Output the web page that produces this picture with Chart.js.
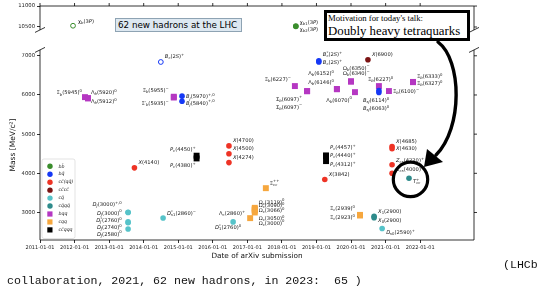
<!DOCTYPE html>
<html>
<head>
<meta charset="utf-8">
<script src="https://cdn.jsdelivr.net/npm/chart.js@4.4.1/dist/chart.umd.min.js"></script>
<style>
  body { margin: 0; background: #fff; }
  #wrap { position: relative; width: 537px; height: 286px; overflow: hidden; }
  #chart { position: absolute; left: 0; top: 0; width: 537px; height: 286px; }
  .note { position: absolute; left: 115px; top: 18px; width: 127px; height: 14px; box-sizing: border-box;
          border: 1px solid #8ea3b3; background: #dde8f1; font: 8.75px "DejaVu Sans"; line-height: 12px;
          padding-left: 2px; color: #000; white-space: nowrap; }
  .motiv { position: absolute; left: 324px; top: 10px; width: 146px; height: 31px; box-sizing: border-box;
           border: 3px solid #000; background: #fff; font-family: "Liberation Serif"; color: #000; }
  .motiv .l1 { position: absolute; left: 1px; top: 1px; font-size: 8.7px; line-height: 9px; white-space: nowrap; }
  .motiv .l2 { position: absolute; left: 1px; top: 10.5px; font-size: 12.8px; line-height: 14px; white-space: nowrap; }
  .cite { position: absolute; font: 11.6px "Liberation Mono"; line-height: 13px; color: #111; white-space: pre; }
</style>
</head>
<body>
<div id="wrap">
  <canvas id="chart" width="537" height="286"></canvas>
  <div class="note">62 new hadrons at the LHC</div>
  <div class="motiv"><span class="l1">Motivation for today's talk:</span><span class="l2">Doubly heavy tetraquarks</span></div>
  <div class="cite" style="left:503px;top:257.5px">(LHCb</div>
  <div class="cite" style="left:7px;top:273.5px">collaboration, 2021, 62 new hadrons, in 2023:  65 )</div>
</div>
<script>
// hadron families, legend order
const categories = ['bb\u0304', 'bq\u0304', 'cc\u0304(qq\u0304)', 'cc\u0304cc\u0304', 'cq\u0304', 'cq\u0304qq\u0304', 'bqq', 'cqq', 'cc\u0304qqq'];

const bbNames  = ['χ_b(3P)', 'χ_{b1}(3P)', 'χ_{b2}(3P)'];
const bbDates  = ['2011-12-16', '2018-05-28', '2018-05-28'];
const bbMasses = [10530, 10513, 10524];
const bbExp    = ['ATLAS', 'LHCb', 'LHCb'];

const bqNames  = ['B_c(2S)^+', 'B_J(5970)^{+,0}', 'B_J(5840)^{+,0}', 'B_c^*(2S)^+', 'B_c(2S)^+', 'B_{sJ}(6114)^0', 'B_{sJ}(6063)^0'];
const bqDates  = ['2014-07-01', '2015-02-10', '2015-02-10', '2019-01-26', '2019-01-26', '2020-10-22', '2020-10-22'];
const bqMasses = [6842, 5970, 5840, 6841, 6872, 6114, 6063];
const bqExp    = ['ATLAS', 'LHCb', 'LHCb', 'LHCb', 'LHCb', 'LHCb', 'LHCb'];

const ccqqNames  = ['X(4140)', 'X(4700)', 'X(4500)', 'X(4274)', 'X(3842)', 'X(4685)', 'X(4630)', 'Z_{cs}(4220)^+', 'Z_{cs}(4000)^+'];
const ccqqDates  = ['2013-09-25', '2016-06-20', '2016-06-20', '2016-06-20', '2019-03-30', '2021-03-10', '2021-03-10', '2021-03-10', '2021-03-10'];
const ccqqMasses = [4140, 4700, 4500, 4274, 3842, 4685, 4630, 4220, 4003];

const ccccNames  = ['X(6900)'];
const ccccDates  = ['2020-06-28'];
const ccccMasses = [6900];

const cqNames  = ['D_J(3000)^{+,0}', 'D_J(3000)^0', 'D_J^*(2760)^0', 'D_J(2740)^0', 'D_J(2580)^0', 'D^*_{s1}(2860)^−', 'D_1^*(2760)^0', 'D_{s0}(2590)^+'];
const cqDates  = ['2013-07-20', '2013-07-20', '2013-07-20', '2013-07-20', '2013-07-20', '2014-07-25', '2016-08-03', '2020-11-25'];
const cqMasses = [3008, 3000, 2760, 2740, 2580, 2860, 2760, 2590];

const cqqqNames  = ['X_1(2900)', 'X_0(2900)', 'T_{cc}^+'];
const cqqqDates  = ['2020-09-01', '2020-09-01', '2021-09-05'];
const cqqqMasses = [2904, 2866, 3875];

const bqqNames  = ['Ξ_b(5945)^0', 'Λ_b(5920)^0', 'Λ_b(5912)^0', 'Ξ_b(5955)^−', 'Ξ′_b(5935)^−', 'Ξ_b(6227)^−', 'Σ_b(6097)^+', 'Σ_b(6097)^−',
                   'Λ_b(6152)^0', 'Λ_b(6146)^0', 'Ω_b(6350)^−', 'Ω_b(6340)^−', 'Λ_b(6070)^0', 'Ξ_b(6227)^0', 'Ξ_b(6100)^−', 'Ξ_b(6333)^0', 'Ξ_b(6327)^0'];
const bqqDates  = ['2012-04-20', '2012-05-22', '2012-05-22', '2014-11-15', '2014-11-15', '2018-05-18', '2018-09-24', '2018-09-24',
                   '2019-08-05', '2019-08-05', '2020-01-01', '2020-01-01', '2020-02-12', '2020-10-22', '2021-02-05', '2021-10-17', '2021-10-17'];
const bqqMasses = [5945, 5920, 5912, 5955, 5935, 6227, 6097, 6097, 6152, 6146, 6350, 6340, 6072, 6227, 6100, 6333, 6327];

const cqqNames  = ['Ξ_{cc}^{++}', 'Ω_c(3119)^0', 'Ω_c(3090)^0', 'Ω_c(3066)^0', 'Ω_c(3050)^0', 'Ω_c(3000)^0', 'Λ_c(2860)^+', 'Ξ_c(2939)^0', 'Ξ_c(2923)^0'];
const cqqDates  = ['2017-07-15', '2017-03-20', '2017-03-20', '2017-03-20', '2017-03-20', '2017-03-20', '2017-01-30', '2020-04-05', '2020-04-05'];
const cqqMasses = [3621, 3119, 3090, 3066, 3050, 3000, 2856, 2939, 2923];

const pcNames  = ['P_c(4450)^+', 'P_c(4380)^+', 'P_c(4457)^+', 'P_c(4440)^+', 'P_c(4312)^+'];
const pcDates  = ['2015-07-14', '2015-07-14', '2019-04-12', '2019-04-12', '2019-04-12'];
const pcMasses = [4450, 4380, 4457, 4440, 4312];

const tickYears  = [2011, 2012, 2013, 2014, 2015, 2016, 2017, 2018, 2019, 2020, 2021, 2022];
const massTicks  = [3000, 4000, 5000, 6000, 7000, 10500, 11000];
const axisBreak  = [7150, 10430];   // top of lower panel, bottom of upper panel

// styling / label layout
const catColors = ['#3a8d2c', '#1538f5', '#ee3325', '#7b1414', '#56c3c9', '#2e8b8b', '#b537c2', '#f6a73e', '#000000'];
const catShapes = ['circle', 'circle', 'circle', 'circle', 'circle', 'circle', 'rect', 'rect', 'rect'];

const bbLabels   = [[5, -4, 'l'], [4, -4, 'l'], [4, 4, 'l']];
const bqLabels   = [[4, -5, 'l'], [4, 1, 'l'], [4, 2, 'l'], [4, -7.5, 'l'], [4, 2, 'l'], [-16, 10.5, 'l'], [-16, 16, 'l']];
const ccqqLabels = [[4, -5, 'l'], [4, -5, 'l'], [4, -5, 'l'], [4, -5, 'l'], [4, -5, 'l'], [4, -5, 'l'], [4, 0, 'l'], [4, -4, 'l'], [4, -4, 'l']];
const ccccLabels = [[4, -5, 'l']];
const cqLabels   = [[-6.3, -7.3, 'r'], [-6.3, 0.7, 'r'], [-6.3, -1.3, 'r'], [-6.3, 4.9, 'r'], [-6.3, 5.2, 'r'], [4, -4.3, 'l'], [-5, 5.6, 'c'], [4, 4, 'l']];
const cqqqLabels = [[4, -5, 'l'], [4, 3, 'l'], [4, 3.5, 'l']];
const bqqLabels  = [[-3, -4, 'r'], [3, -5, 'l'], [3, 3, 'l'], [-5, -6, 'r'], [-5, 6.5, 'r'], [-4, -6, 'r'], [-5, 8, 'r'], [-5, 16, 'r'],
                    [-3, -15, 'r'], [-3, -6.5, 'r'], [-8, -13, 'l'], [-8, -7.6, 'l'], [-3, 8, 'r'], [-11, -6, 'l'], [4, 1, 'l'], [4, -5, 'l'], [4, 1.5, 'l']];
const cqqLabels  = [[4, -5, 'l'], [4, -5.6, 'l'], [4, -3.2, 'l'], [4, 0.6, 'l'], [4, 8, 'l'], [4, 10.8, 'l'], [-5, -4.3, 'r'], [-5, -6, 'r'], [-5, 2.5, 'r']];
const pcLabels   = [[-1, -6, 'r'], [-1, 7.5, 'r'], [4, -7.5, 'l'], [4, -0.5, 'l'], [4, 4, 'l']];

const groups = [
  [bbNames, bbDates, bbMasses, bbLabels, bbExp],
  [bqNames, bqDates, bqMasses, bqLabels, bqExp],
  [ccqqNames, ccqqDates, ccqqMasses, ccqqLabels],
  [ccccNames, ccccDates, ccccMasses, ccccLabels],
  [cqNames, cqDates, cqMasses, cqLabels],
  [cqqqNames, cqqqDates, cqqqMasses, cqqqLabels],
  [bqqNames, bqqDates, bqqMasses, bqqLabels],
  [cqqNames, cqqDates, cqqMasses, cqqLabels],
  [pcNames, pcDates, pcMasses, pcLabels]
];

// broken axis: upper panel (bottomonium) is squeezed just above the lower one
function yPos(m) {
  return m > 9000 ? 7735 + (m - 10500) * 1.07 : m;
}

const datasets = groups.map((g, k) => {
  const [names, dates, masses, , exp] = g;
  const col = catColors[k];
  const isOpen = i => exp && exp[i] !== 'LHCb';
  return {
    label: categories[k],
    data: names.map((n, i) => ({ x: Date.parse(dates[i]), y: yPos(masses[i]) })),
    pointStyle: catShapes[k],
    pointRadius: ctx => catShapes[k] === 'rect' ? 4.2 : (isOpen(ctx.dataIndex) ? 2.4 : 2.8),
    pointBackgroundColor: ctx => isOpen(ctx.dataIndex) ? '#fff' : col,
    pointBorderColor: col,
    pointBorderWidth: ctx => isOpen(ctx.dataIndex) ? 1 : 0,
    backgroundColor: col,
    borderColor: col
  };
});

const LABEL_SIZE = 5.2, SCRIPT_SIZE = 3.8;

function parseRich(s) {
  const out = [];
  let i = 0;
  while (i < s.length) {
    const c = s[i];
    if (c === '_' || c === '^') {
      i++;
      let t;
      if (s[i] === '{') { const j = s.indexOf('}', i); t = s.slice(i + 1, j); i = j + 1; }
      else { t = s[i]; i++; }
      out.push({ t, mode: c });
    } else {
      let j = i;
      while (j < s.length && s[j] !== '_' && s[j] !== '^') j++;
      out.push({ t: s.slice(i, j), mode: '' });
      i = j;
    }
  }
  return out;
}

function splitRuns(t) {
  const runs = [];
  let cur = '', curIt = null;
  for (const ch of t) {
    const it = /[A-Za-z]/.test(ch);
    if (curIt === null || it === curIt) { cur += ch; curIt = it; }
    else { runs.push([cur, curIt]); cur = ch; curIt = it; }
  }
  if (cur) runs.push([cur, curIt]);
  return runs;
}

function fontFor(it, size) { return (it ? 'italic ' : '') + size + 'px "DejaVu Sans"'; }

function runsWidth(ctx, t, size) {
  let w = 0;
  for (const [s, it] of splitRuns(t)) { ctx.font = fontFor(it, size); w += ctx.measureText(s).width; }
  return w;
}

function drawRuns(ctx, t, x, y, size) {
  for (const [s, it] of splitRuns(t)) {
    ctx.font = fontFor(it, size);
    ctx.fillText(s, x, y);
    x += ctx.measureText(s).width;
  }
}

function drawRich(ctx, s, x, y, align) {
  const parts = parseRich(s);
  let w = 0, scriptStart = null, prev = '';
  const placed = [];
  for (const p of parts) {
    const size = p.mode ? SCRIPT_SIZE : LABEL_SIZE;
    const pw = runsWidth(ctx, p.t, size);
    if (p.mode && prev && prev !== p.mode && scriptStart !== null) {
      placed.push({ p, x: scriptStart, size });
      w = Math.max(w, scriptStart + pw);
      scriptStart = null;
    } else {
      placed.push({ p, x: w, size });
      scriptStart = p.mode ? w : null;
      w += pw;
    }
    prev = p.mode;
  }
  const x0 = align === 'r' ? x - w : align === 'c' ? x - w / 2 : x;
  for (const q of placed) {
    const dy = q.p.mode === '_' ? 1.4 : q.p.mode === '^' ? -1.9 : 0;
    drawRuns(ctx, q.p.t, x0 + q.x, y + dy, q.size);
  }
}

const overlay = {
  id: 'overlay',
  afterDatasetsDraw(chart) {
    const ctx = chart.ctx;
    ctx.save();
    ctx.fillStyle = '#1a1a1a';
    ctx.textBaseline = 'middle';
    ctx.textAlign = 'left';
    groups.forEach((g, k) => {
      const meta = chart.getDatasetMeta(k);
      g[0].forEach((name, i) => {
        const pt = meta.data[i];
        const [dx, dy, al] = g[3][i];
        drawRich(ctx, name, pt.x + dx, pt.y + dy, al);
      });
    });
    ctx.restore();
  },
  afterDraw(chart) {
    const ctx = chart.ctx;
    const { left, right, top, bottom } = chart.chartArea;
    const ys = chart.scales.y, xs = chart.scales.x;
    const gapTop = ys.getPixelForValue(yPos(axisBreak[1]));
    const gapBot = ys.getPixelForValue(axisBreak[0]);
    ctx.save();
    ctx.strokeStyle = '#000';
    ctx.lineWidth = 0.8;
    ctx.beginPath();
    ctx.moveTo(left, top); ctx.lineTo(right, top);
    ctx.moveTo(left, bottom); ctx.lineTo(right, bottom);
    for (const sx of [left, right]) {
      ctx.moveTo(sx, top); ctx.lineTo(sx, gapTop);
      ctx.moveTo(sx, gapBot); ctx.lineTo(sx, bottom);
      for (const py of [gapTop, gapBot]) {
        ctx.moveTo(sx - 5, py + 2.5); ctx.lineTo(sx + 5, py - 2.5);
      }
    }
    // mirrored ticks on right and top
    massTicks.forEach(m => {
      const py = ys.getPixelForValue(yPos(m));
      ctx.moveTo(right, py); ctx.lineTo(right + 3, py);
    });
    tickYears.forEach(yr => {
      const px = xs.getPixelForValue(Date.UTC(yr, 0, 1));
      ctx.moveTo(px, top); ctx.lineTo(px, top - 3);
    });
    ctx.stroke();

    // axis titles
    ctx.fillStyle = '#111';
    ctx.font = '7.3px "DejaVu Sans"';
    ctx.textAlign = 'center';
    ctx.textBaseline = 'middle';
    ctx.fillText('Date of arXiv submission', (left + right) / 2, 256);
    ctx.save();
    ctx.translate(13, (gapBot + bottom) / 2);
    ctx.rotate(-Math.PI / 2);
    ctx.font = '7.5px "DejaVu Sans"';
    ctx.fillText('Mass [MeV/c²]', 0, 0);
    ctx.restore();

    // legend
    ctx.fillStyle = 'rgba(255,255,255,0.9)';
    ctx.strokeStyle = '#d0d0d0';
    ctx.lineWidth = 0.6;
    ctx.beginPath();
    ctx.roundRect(42, 159, 33, 79.5, 2);
    ctx.fill(); ctx.stroke();
    categories.forEach((c, k) => {
      const cy = 166.3 + k * 7.95;
      ctx.fillStyle = catColors[k];
      if (catShapes[k] === 'rect') ctx.fillRect(47.3, cy - 2.6, 5.2, 5.2);
      else { ctx.beginPath(); ctx.arc(50, cy, 2.7, 0, Math.PI * 2); ctx.fill(); }
      ctx.fillStyle = '#222';
      ctx.textAlign = 'left';
      ctx.font = 'italic 4.7px "DejaVu Sans"';
      ctx.fillText(c, 58.5, cy);
    });

    // circle round T_cc and the hand-drawn arrow
    const tcc = chart.getDatasetMeta(5).data[2];
    ctx.strokeStyle = '#000';
    ctx.lineWidth = 3.2;
    ctx.lineCap = 'round';
    ctx.beginPath();
    ctx.arc(tcc.x + 1.5, tcc.y + 1.2, 17.2, 0, Math.PI * 2);
    ctx.stroke();
    ctx.lineWidth = 3.4;
    ctx.beginPath();
    ctx.moveTo(438, 42);
    ctx.bezierCurveTo(462, 60, 463, 128, 436, 155);
    ctx.stroke();
    ctx.fillStyle = '#000';
    ctx.beginPath();
    ctx.moveTo(424, 167);
    ctx.lineTo(427, 149);
    ctx.lineTo(443, 162);
    ctx.closePath();
    ctx.fill();
    ctx.restore();
  }
};

const tickFont = { family: 'DejaVu Sans', size: 5 };

new Chart(document.getElementById('chart'), {
  type: 'scatter',
  data: { datasets },
  options: {
    responsive: false,
    animation: false,
    devicePixelRatio: 1,
    layout: { padding: { left: 0, right: 63, top: 6, bottom: 0 } },
    plugins: { legend: { display: false }, tooltip: { enabled: false } },
    scales: {
      x: {
        type: 'linear',
        min: Date.UTC(2011, 0, 1),
        max: Date.UTC(2023, 6, 24),
        afterBuildTicks: s => { s.ticks = tickYears.map(yr => ({ value: Date.UTC(yr, 0, 1) })); },
        ticks: {
          callback: v => new Date(v).toISOString().slice(0, 10),
          autoSkip: false, maxRotation: 0, font: tickFont, color: '#222', padding: 1.5
        },
        grid: { drawOnChartArea: false, tickLength: 3, color: '#000', lineWidth: 0.8 },
        border: { display: false },
        afterFit: s => { s.height = 46; }
      },
      y: {
        type: 'linear',
        min: 2298,
        max: 8271,
        afterBuildTicks: s => { s.ticks = massTicks.map(m => ({ value: yPos(m) })); },
        ticks: {
          callback: (v, i) => String(massTicks[i]),
          font: { family: 'DejaVu Sans', size: 5.3 }, color: '#222', padding: 2
        },
        grid: { drawOnChartArea: false, tickLength: 3, color: '#000', lineWidth: 0.8 },
        border: { display: false },
        afterFit: s => { s.width = 40; }
      }
    }
  },
  plugins: [overlay]
});
</script>
</body>
</html>
